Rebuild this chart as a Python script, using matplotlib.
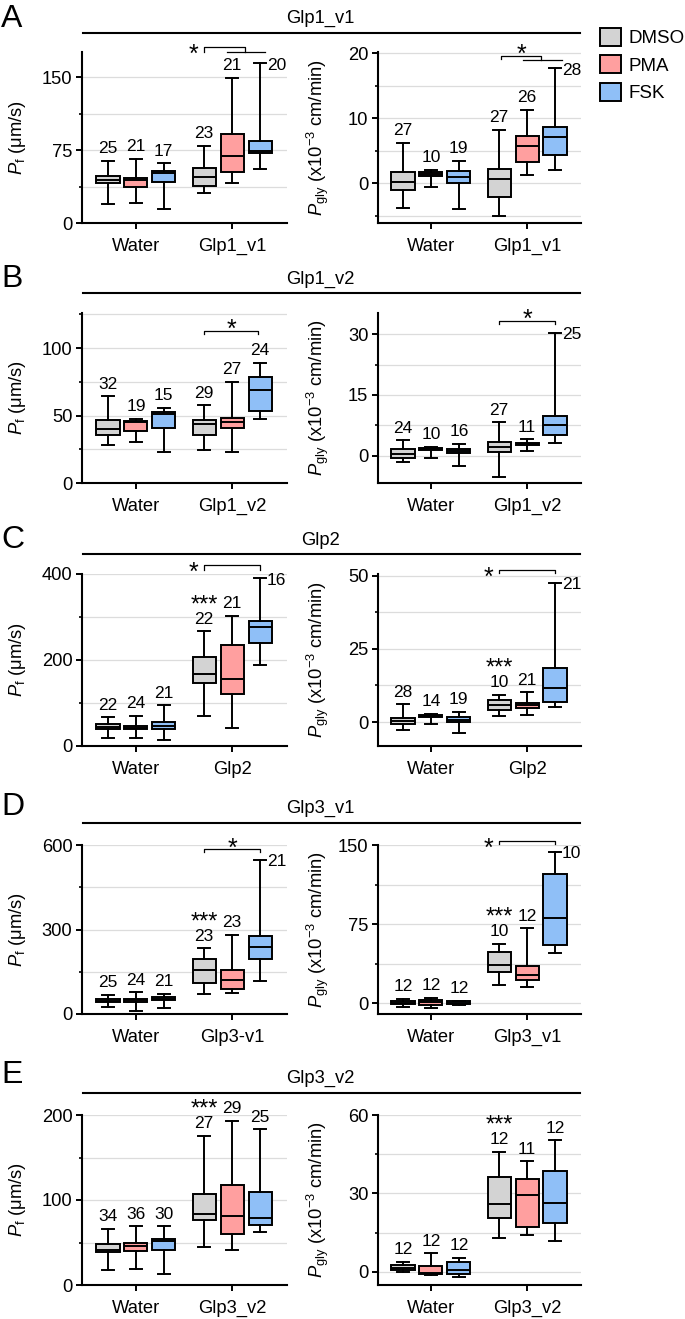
import matplotlib
matplotlib.use('Agg')
import matplotlib.pyplot as plt
from matplotlib.patches import Patch
from matplotlib.lines import Line2D

plt.rcParams['font.family'] = ['Liberation Sans', 'DejaVu Sans']
plt.rcParams['mathtext.fontset'] = 'custom'
plt.rcParams['mathtext.rm'] = 'Liberation Sans'
plt.rcParams['mathtext.it'] = 'Liberation Sans:italic'
plt.rcParams['mathtext.bf'] = 'Liberation Sans:bold'

# ---------------- data ----------------
treatments = ['DMSO', 'PMA', 'FSK']
colors = ['#d3d3d3', '#ff9f9f', '#8fbff7']
panel_letters = ['A', 'B', 'C', 'D', 'E']
constructs = ['Glp1_v1', 'Glp1_v2', 'Glp2', 'Glp3_v1', 'Glp3_v2']
pf_xlabels = [['Water', 'Glp1_v1'], ['Water', 'Glp1_v2'], ['Water', 'Glp2'],
              ['Water', 'Glp3-v1'], ['Water', 'Glp3_v2']]
pgly_xlabels = [['Water', 'Glp1_v1'], ['Water', 'Glp1_v2'], ['Water', 'Glp2'],
                ['Water', 'Glp3_v1'], ['Water', 'Glp3_v2']]

# box stats: (whisker low, q1, median, q3, whisker high)
# order: Water DMSO, PMA, FSK, construct DMSO, PMA, FSK
pf_glp1_v1 = [(19.9, 40.8, 44.5, 48.3, 63.7), (20.5, 36.6, 43.8, 46.6, 65.8),
              (14.0, 42.1, 51.0, 53.8, 61.3), (30.5, 38.4, 47.3, 56.2, 79.5),
              (40.8, 52.0, 68.5, 91.8, 149.3), (55.5, 72.5, 74.5, 83.9, 164.4)]
n_pf_glp1_v1 = [25, 21, 17, 23, 21, 20]
pgly_glp1_v1 = [(-3.8, -1.0, 0.2, 1.8, 6.2), (-0.5, 1.2, 1.4, 1.7, 2.1),
                (-4.0, 0.05, 0.9, 1.9, 3.5), (-5.0, -2.1, 0.7, 2.2, 8.2),
                (1.3, 3.3, 5.7, 7.3, 11.3), (2.0, 4.3, 7.2, 8.7, 17.7)]
n_pgly_glp1_v1 = [27, 10, 19, 27, 26, 28]

pf_glp1_v2 = [(28.1, 35.3, 40.0, 46.4, 64.2), (30.6, 38.8, 45.0, 45.9, 47.7),
              (22.7, 40.7, 51.1, 52.8, 55.8), (24.7, 35.6, 44.0, 46.4, 57.5),
              (22.7, 40.7, 45.0, 48.4, 74.8), (47.2, 53.3, 68.6, 78.5, 88.9)]
n_pf_glp1_v2 = [32, 19, 15, 29, 27, 24]
pgly_glp1_v2 = [(-1.6, -0.6, 0.4, 1.6, 3.8), (-0.5, 1.3, 1.6, 1.9, 2.1),
                (-2.7, 0.6, 1.2, 1.7, 2.9), (-5.2, 0.8, 2.1, 3.4, 8.2),
                (1.1, 2.5, 2.9, 3.1, 4.0), (3.05, 5.0, 7.5, 9.9, 30.3)]
n_pgly_glp1_v2 = [24, 10, 16, 27, 11, 25]

pf_glp2 = [(19.6, 39.2, 44.7, 51.0, 66.7), (19.6, 38.4, 43.0, 47.0, 69.8),
           (13.3, 40.0, 47.0, 55.0, 95.0), (70.6, 145.9, 168.6, 207.0, 266.7),
           (42.4, 120.8, 156.9, 236.0, 302.7), (188.2, 240.0, 276.0, 291.0, 389.8)]
n_pf_glp2 = [22, 24, 21, 22, 21, 16]
pgly_glp2 = [(-2.8, -0.7, 0.5, 1.5, 6.0), (-0.7, 1.6, 2.0, 2.4, 2.8),
             (-3.75, 0.1, 0.8, 1.7, 3.4), (2.0, 4.0, 5.9, 7.6, 9.4),
             (2.3, 4.7, 5.9, 6.4, 10.1), (5.0, 6.8, 11.6, 18.6, 47.6)]
n_pgly_glp2 = [28, 14, 19, 10, 21, 21]

pf_glp3_v1 = [(23.8, 42.9, 47.6, 52.4, 69.0), (9.5, 42.9, 48.8, 54.8, 77.4),
              (21.4, 50.0, 54.8, 59.5, 71.4), (71.4, 111.0, 157.0, 194.0, 233.0),
              (75.0, 87.0, 119.0, 155.0, 281.0), (115.5, 196.0, 239.0, 276.0, 546.0)]
n_pf_glp3_v1 = [25, 24, 21, 23, 23, 21]
pgly_glp3_v1 = [(-3.8, -0.9, 0.3, 1.6, 3.8), (-4.7, -2.2, 0.9, 3.2, 4.7),
                (-1.9, -1.3, 0.3, 1.6, 2.2), (16.7, 29.0, 36.0, 48.5, 56.0),
                (15.1, 21.8, 26.8, 35.0, 71.0), (47.3, 55.2, 81.0, 122.3, 143.4)]
n_pgly_glp3_v1 = [12, 12, 12, 10, 12, 10]

pf_glp3_v2 = [(17.5, 38.5, 41.0, 48.0, 66.3), (18.3, 39.8, 45.5, 50.0, 69.0),
              (12.6, 41.5, 51.2, 54.0, 69.0), (44.7, 76.8, 83.0, 107.5, 175.7),
              (41.1, 60.2, 81.7, 117.6, 193.3), (61.8, 70.7, 79.3, 109.4, 183.0)]
n_pf_glp3_v2 = [34, 36, 30, 27, 29, 25]
pgly_glp3_v2 = [(-0.3, 0.8, 1.5, 2.4, 3.8), (-1.3, -0.9, -0.5, 2.3, 7.0),
                (-1.9, -0.9, 0.6, 3.7, 5.2), (13.0, 20.7, 25.9, 36.3, 45.8),
                (13.9, 17.1, 29.5, 35.5, 42.3), (11.7, 18.6, 26.4, 38.6, 50.3)]
n_pgly_glp3_v2 = [12, 12, 12, 12, 11, 12]

pf_stats = [pf_glp1_v1, pf_glp1_v2, pf_glp2, pf_glp3_v1, pf_glp3_v2]
pf_ns = [n_pf_glp1_v1, n_pf_glp1_v2, n_pf_glp2, n_pf_glp3_v1, n_pf_glp3_v2]
pgly_stats = [pgly_glp1_v1, pgly_glp1_v2, pgly_glp2, pgly_glp3_v1, pgly_glp3_v2]
pgly_ns = [n_pgly_glp1_v1, n_pgly_glp1_v2, n_pgly_glp2, n_pgly_glp3_v1, n_pgly_glp3_v2]

# axis settings
pf_ylims = [(0, 176), (0, 126), (0, 400), (0, 600), (0, 200)]
pf_major = [[0, 75, 150], [0, 50, 100], [0, 200, 400], [0, 300, 600], [0, 100, 200]]
pf_minor = [[37.5, 112.5], [25, 75, 125], [100, 300], [150, 450], [50, 150]]
pgly_ylims = [(-6.1, 20.2), (-6.8, 35.3), (-8.2, 50.6), (-10.4, 150), (-5.1, 60)]
pgly_major = [[0, 10, 20], [0, 15, 30], [0, 25, 50], [0, 75, 150], [0, 30, 60]]
pgly_minor = [[-5, 5, 15], [7.5, 22.5], [12.5, 37.5], [37.5, 112.5], [15, 45]]

# n label placed at the right of the whisker (index) ; "***" on index
pf_side = [5, None, 5, 5, None]
pgly_side = [5, 5, 5, 5, None]
stars3 = [False, False, True, True, True]

# significance brackets: (kind, x_start, x_end, y, tick_px, star_pos, x2a, x2b, y2)
pf_brackets = [('double', 0.71, 1.135, 181.1, 5, 'left', 0.95, 1.34, 176.0),
               ('single', 0.71, 1.27, 112.8, 3, 'above', None, None, None),
               ('single', 0.71, 1.29, 421.0, 5, 'left', None, None, None),
               ('single', 0.71, 1.29, 584.5, 3, 'above', None, None, None),
               None]
pgly_brackets = [('double', 0.73, 1.146, 19.59, 3.3, 'above', 0.96, 1.365, 18.93),
                 ('single', 0.71, 1.29, 33.4, 3.3, 'above', None, None, None),
                 ('single', 0.71, 1.29, 52.0, 3.3, 'left', None, None, None),
                 ('single', 0.71, 1.29, 154.0, 3.3, 'left', None, None, None),
                 None]

positions = [-0.29, 0.0, 0.29, 0.71, 1.0, 1.29]

# ---------------- layout (pixels) ----------------
W, H = 685, 1319
fig = plt.figure(figsize=(W / 100, H / 100), dpi=100)

rows = [(52, 223), (313, 483), (574, 746), (845, 1014), (1115, 1285)]
letter_base = [27, 287, 548, 815, 1083]
header_base = [23, 284, 545, 813, 1083]
header_line = [33.3, 293.3, 554.3, 823.3, 1093.3]
left_x = (82, 287)
right_x = (378, 581)

LW = 1.4
FS_TICK = 13.2
FS_N = 12.5


def fx(px):
    return px / W


def fy(py):
    return 1 - py / H


def make_axes(xr, yr):
    return fig.add_axes([fx(xr[0]), fy(yr[1]), (xr[1] - xr[0]) / W, (yr[1] - yr[0]) / H])


def draw(ax, stats, ns, xlabels, ylim, major, minor, side, star3, bracket, xlim, hpx):
    bstats = [dict(whislo=s[0], q1=s[1], med=s[2], q3=s[3], whishi=s[4], fliers=[])
              for s in stats]
    bp = ax.bxp(bstats, positions=positions, widths=0.24, capwidths=0.12,
                patch_artist=True, showfliers=False, manage_ticks=False,
                boxprops=dict(edgecolor='black', linewidth=LW),
                whiskerprops=dict(color='black', linewidth=LW),
                capprops=dict(color='black', linewidth=LW),
                medianprops=dict(color='black', linewidth=LW))
    for patch, c in zip(bp['boxes'], colors * 2):
        patch.set_facecolor(c)
    ax.set_xlim(*xlim)
    ax.set_ylim(*ylim)
    ax.set_yticks(major)
    ax.set_yticks(minor, minor=True)
    ax.set_xticks([0, 1])
    ax.set_xticklabels(xlabels)
    ax.grid(axis='y', which='both', color='#dcdcdc', linewidth=0.9)
    ax.set_axisbelow(True)
    for s in ['top', 'right']:
        ax.spines[s].set_visible(False)
    for s in ['left', 'bottom']:
        ax.spines[s].set_linewidth(1.5)
    ax.tick_params(axis='y', which='major', length=4, width=1.4, labelsize=FS_TICK, pad=3)
    ax.tick_params(axis='y', which='minor', length=2.5, width=1.2)
    ax.tick_params(axis='x', which='major', length=4, width=1.4, labelsize=FS_TICK, pad=7)

    for i, (s, n) in enumerate(zip(stats, ns)):
        if side is not None and i == side:
            ax.annotate(str(n), xy=(positions[i], s[4]), xytext=(5, -4.5),
                        textcoords='offset points', ha='left', va='baseline',
                        fontsize=FS_N, annotation_clip=False)
        else:
            ax.annotate(str(n), xy=(positions[i], s[4]), xytext=(0, 5.5),
                        textcoords='offset points', ha='center', va='baseline',
                        fontsize=FS_N, annotation_clip=False)
        if star3 and i == 3:
            ax.annotate('***', xy=(positions[i], s[4]), xytext=(0, 14.5),
                        textcoords='offset points', ha='center', va='baseline',
                        fontsize=17, annotation_clip=False)

    if bracket is not None:
        kind, x0, x1, y, tpx, spos, x2a, x2b, y2 = bracket
        dpp = (ylim[1] - ylim[0]) / hpx
        t = tpx * dpp
        kw = dict(color='black', linewidth=0.9, clip_on=False)
        if kind == 'double':
            ax.plot([x0, x0, x1, x1], [y - t, y, y, y2], **kw)
            ax.plot([x2a, x2b], [y2, y2], **kw)
        else:
            ax.plot([x0, x0, x1, x1], [y - t, y, y, y - t], **kw)
        if spos == 'left':
            ax.annotate('*', xy=(x0, y), xytext=(-8, -10.6), textcoords='offset points',
                        ha='center', va='baseline', fontsize=18, annotation_clip=False)
        else:
            ax.annotate('*', xy=((x0 + x1) / 2, y), xytext=(0, 6 - 10.6),
                        textcoords='offset points', ha='center', va='baseline',
                        fontsize=18, annotation_clip=False)


for r in range(5):
    y0, y1 = rows[r]
    hpx = y1 - y0
    axl = make_axes(left_x, rows[r])
    draw(axl, pf_stats[r], pf_ns[r], pf_xlabels[r], pf_ylims[r], pf_major[r], pf_minor[r],
         pf_side[r], stars3[r], pf_brackets[r], (-0.56, 1.57), hpx)
    axr = make_axes(right_x, rows[r])
    draw(axr, pgly_stats[r], pgly_ns[r], pgly_xlabels[r], pgly_ylims[r], pgly_major[r],
         pgly_minor[r], pgly_side[r], stars3[r], pgly_brackets[r], (-0.55, 1.56), hpx)

    yc = (y0 + y1) / 2
    fig.text(fx(18), fy(yc), r'$\mathit{P}_{\mathrm{f}}$ (μm/s)', rotation=90,
             ha='center', va='center', fontsize=13.2)
    fig.text(fx(318), fy(yc), r'$\mathit{P}_{\mathrm{gly}}$ (x10$^{-3}$ cm/min)', rotation=90,
             ha='center', va='center', fontsize=13.2)

    fig.text(fx(1), fy(letter_base[r]), panel_letters[r], fontsize=23,
             ha='left', va='baseline')
    fig.text(fx(320), fy(header_base[r]), constructs[r], fontsize=13.2,
             ha='center', va='baseline')
    fig.add_artist(Line2D([fx(83), fx(580)], [fy(header_line[r])] * 2,
                          transform=fig.transFigure, color='black', linewidth=1.5))

handles = [Patch(facecolor=c, edgecolor='black', linewidth=1.4, label=t)
           for c, t in zip(colors, treatments)]
fig.legend(handles=handles, loc='upper left', bbox_to_anchor=(fx(600), fy(28)),
           frameon=False, fontsize=13.5, handlelength=1.1, handleheight=1.1,
           handletextpad=0.4, labelspacing=0.42, borderpad=0, borderaxespad=0)

fig.savefig('out.png', dpi=100)
